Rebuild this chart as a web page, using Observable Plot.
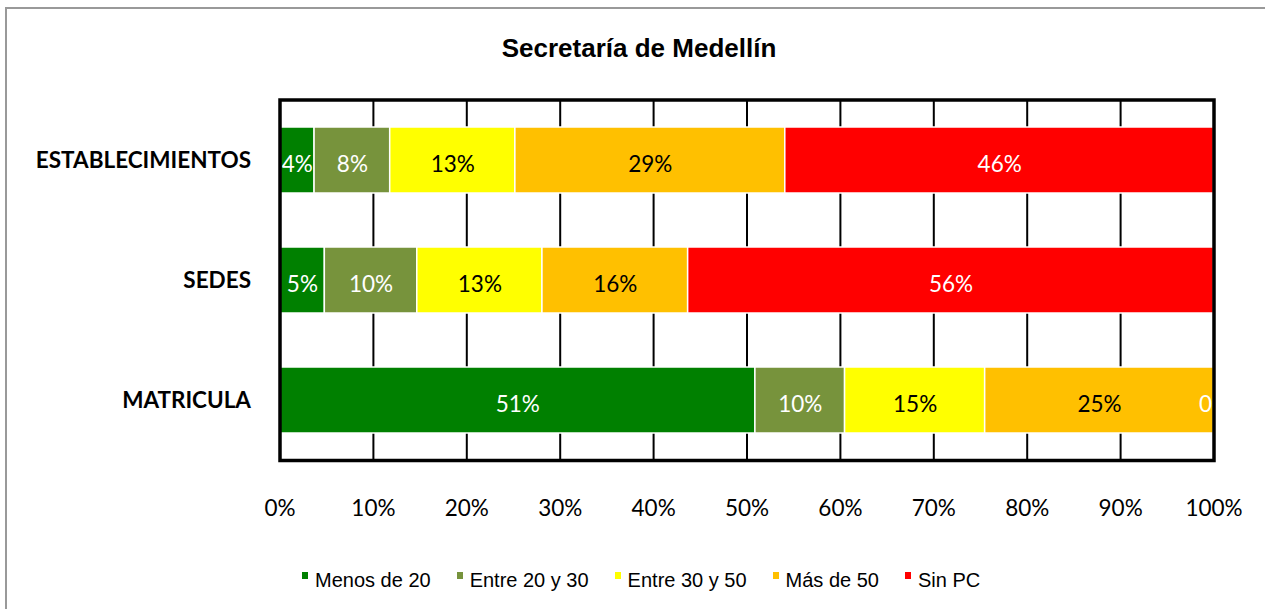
<!DOCTYPE html>
<html>
<head>
<meta charset="utf-8">
<script src="https://cdn.jsdelivr.net/npm/d3@7"></script>
<script src="https://cdn.jsdelivr.net/npm/@observablehq/plot@0.6"></script>
<style>
  html, body { margin: 0; padding: 0; background: #fff; overflow: hidden; }
  #page { position: relative; width: 1265px; height: 609px; overflow: hidden; background: #fff; }
  #border { position: absolute; left: 5px; top: 7px; width: 1300px; height: 700px;
            border-left: 2px solid #999; border-top: 2px solid #999; box-sizing: border-box; }
  #title { position: absolute; left: 0; top: 33px; width: 1278px; text-align: center;
           font-family: "Liberation Sans", Arial, sans-serif; font-weight: bold; font-size: 26px;
           line-height: 30px; color: #000; }
  #chart { position: absolute; left: 0; top: 80px; }
  #legend { position: absolute; left: 302px; top: 568px; display: flex; gap: 26px;
            font-family: "Liberation Sans", Arial, sans-serif; font-size: 20px; line-height: 24px; color: #000; }
  #legend .item { display: flex; align-items: flex-start; white-space: nowrap; }
  #legend .sw { width: 6px; height: 7px; margin-top: 4px; margin-right: 7px; flex: none; }
  [aria-label^="y-axis"] text { font-weight: 700; }
</style>
</head>
<body>
<div id="page">
  <div id="border"></div>
  <div id="title"></div>
  <div id="chart"></div>
  <div id="legend"></div>
</div>
<script>
const titleText = "Secretaría de Medellín";
const categories = ["ESTABLECIMIENTOS", "SEDES", "MATRICULA"];
const series = ["Menos de 20", "Entre 20 y 30", "Entre 30 y 50", "Más de 50", "Sin PC"];
const seriesColors = ["#008000", "#77933C", "#FFFF00", "#FFC000", "#FF0000"];
const whiteLabelSeries = ["Menos de 20", "Entre 20 y 30", "Sin PC"];

const establecimientos = [3.7, 8.1, 13.4, 28.9, 45.9];
const sedes = [4.8, 9.9, 13.4, 15.6, 56.3];
const matricula = [50.9, 9.6, 15.0, 24.5, 0];

const xTicks = [0, 10, 20, 30, 40, 50, 60, 70, 80, 90, 100];

const rows = [establecimientos, sedes, matricula];
const data = [];
categories.forEach((cat, i) => {
  series.forEach((s, j) => data.push({cat, series: s, value: rows[i][j]}));
});
const label = d => d.value === 0 ? "0" : Math.round(d.value) + "%";

document.getElementById("title").textContent = titleText;

const stackOpts = {x: "value", y: "cat", z: "series", order: series};

const chart = Plot.plot({
  width: 1265,
  height: 460,
  marginLeft: 279.5,
  marginRight: 51.5,
  marginTop: 19.5,
  marginBottom: 80,
  x: {domain: [0, 100], ticks: xTicks, tickFormat: d => d + "%", tickSize: 0, tickPadding: 40, label: null},
  y: {domain: categories, paddingInner: 0.45, paddingOuter: 0.225, tickSize: 0, tickPadding: 29, label: null},
  color: {domain: series, range: seriesColors},
  style: {fontFamily: "Lato, 'Open Sans', sans-serif", fontSize: "22.5px", color: "#000", background: "transparent", overflow: "visible"},
  marks: [
    Plot.ruleX(xTicks, {stroke: "#000", strokeWidth: 2}),
    Plot.barX(data, Plot.stackX({...stackOpts, fill: "series", stroke: "#fff", strokeWidth: 1.5})),
    Plot.textX(data, Plot.stackX({...stackOpts,
      text: d => (whiteLabelSeries.includes(d.series) && d.value > 0) ? label(d) : "",
      fill: "#fff", dy: 4})),
    Plot.textX(data, Plot.stackX({...stackOpts,
      text: d => (!whiteLabelSeries.includes(d.series) && d.value > 0) ? label(d) : "",
      fill: "#000", dy: 4})),
    Plot.textX(data, Plot.stackX({...stackOpts,
      text: d => d.value === 0 ? label(d) : "",
      fill: "#fff", textAnchor: "end", dx: -2, dy: 4})),
    Plot.frame({stroke: "#000", strokeWidth: 3.5})
  ]
});
document.getElementById("chart").appendChild(chart);

const legend = document.getElementById("legend");
series.forEach((s, i) => {
  const item = document.createElement("div");
  item.className = "item";
  const sw = document.createElement("span");
  sw.className = "sw";
  sw.style.background = seriesColors[i];
  const t = document.createElement("span");
  t.textContent = s;
  item.appendChild(sw);
  item.appendChild(t);
  legend.appendChild(item);
});
</script>
</body>
</html>
